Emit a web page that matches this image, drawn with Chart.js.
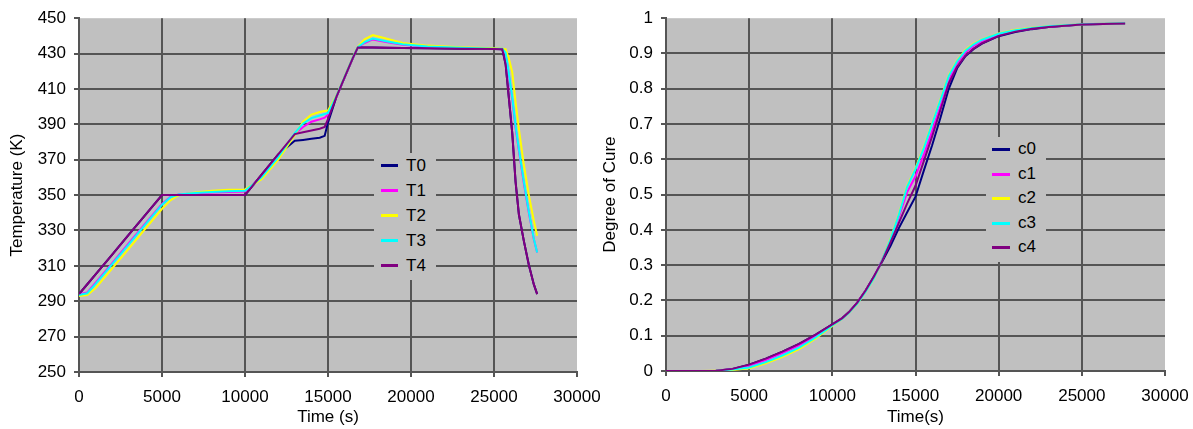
<!DOCTYPE html>
<html>
<head>
<meta charset="utf-8">
<script src="https://cdn.jsdelivr.net/npm/chart.js@4"></script>
<style>
  body { margin: 0; background: #fff; font-family: "Liberation Sans", Arial, sans-serif; }
  #wrap { position: relative; width: 1193px; height: 429px; }
  canvas { position: absolute; top: 0; }
  #tempChart { left: 0; }
  #cureChart { left: 592px; }
  .legend { position: absolute; background: #c0c0c0; font-size: 17px; color: #000; }
  .legend div { position: relative; padding-left: 32px; }
  .legend span { position: absolute; height: 3px; }
  #tempLegend { left: 374px; top: 153px; width: 62px; height: 127px; }
  #tempLegend div { height: 25px; line-height: 25px; }
  #tempLegend span { left: 7px; top: 11px; width: 17px; }
  #cureLegend { left: 986px; top: 137px; width: 60px; height: 125px; }
  #cureLegend div { height: 24.5px; line-height: 24.5px; }
  #cureLegend span { left: 6px; top: 11px; width: 18px; }
</style>
</head>
<body>
<div id="wrap">
  <canvas id="tempChart" width="600" height="429"></canvas>
  <canvas id="cureChart" width="601" height="429"></canvas>
  <div class="legend" id="tempLegend"></div>
  <div class="legend" id="cureLegend"></div>
</div>
<script>
// Temperature profiles (K) at shared time points (s)
const tempTimes = [0, 500, 1000, 2000, 3000, 4000, 5000, 5500, 6000, 7000, 8000, 9000, 10000, 11000, 12000,
  13000, 13500, 14000, 14500, 14800, 15000, 15500, 16000, 16500, 16800, 17200, 17700, 18500, 19500, 21000,
  23000, 25000, 25500, 25700, 25900, 26100, 26300, 26500, 26800, 27100, 27400, 27600];
const T0 = [294, 299.6, 305.2, 316.4, 327.6, 338.8, 350, 350, 350, 350, 350, 350, 350, 361.5, 373,
  380.7, 381.2, 381.8, 382.4, 383.5, 391, 405.4, 416.5, 427.6, 433.5, 433.5, 433.4, 433.3, 433.2, 433,
  432.8, 432.6, 432.5, 424, 404.5, 385, 357.5, 339, 324, 310.5, 299.5, 294];
const T1 = [294, 295, 300.5, 311.5, 322.8, 334, 345, 349, 350.3, 351, 351.5, 351.8, 352, 360.5, 372,
  384.5, 388.5, 391.5, 392.8, 393.8, 395.5, 405.6, 416.6, 427.7, 433.6, 436, 438, 436.5, 435, 433.8,
  433.2, 432.8, 432.6, 430, 417.5, 404, 388, 375, 356.5, 340, 325, 317.5];
const T2 = [293, 293.5, 297.4, 308.6, 319.8, 331, 342.2, 347, 350, 351.5, 352.5, 353, 353.2, 359, 370,
  384, 391.5, 395.5, 397, 397.5, 397.8, 406, 417, 428, 433.8, 438, 440.4, 438.5, 436, 434.5,
  433.6, 433, 432.8, 432.5, 427, 419.5, 402.5, 387.5, 367, 350, 335.5, 327];
const T3 = [293.5, 294.5, 299.8, 311, 322.2, 333.4, 344.6, 348.7, 350.3, 351.2, 351.8, 352.2, 352.5, 360, 371.5,
  385, 390.5, 393.5, 395, 395.8, 396.5, 405.8, 416.8, 427.8, 433.7, 436.5, 438.5, 437, 435.3, 434,
  433.3, 432.8, 432.7, 430.5, 418.5, 405.3, 389.3, 376, 357.5, 340.6, 325.3, 317.5];
const T4 = [294, 299.6, 305.2, 316.4, 327.6, 338.8, 350, 350, 350, 350, 350, 350, 350, 361.5, 373,
  384.5, 385.5, 386.5, 387.5, 388.5, 393, 405.4, 416.5, 427.6, 433.5, 433.5, 433.4, 433.3, 433.2, 433,
  432.8, 432.6, 432.5, 424, 404.5, 385, 357.5, 339, 324, 310.5, 299.5, 294];

// Degree of cure at shared time points (s)
const cureTimes = [0, 2000, 3000, 4000, 5000, 6000, 7000, 8000, 9000, 10000, 10600, 11000, 11500, 12000, 12500,
  13000, 13500, 14000, 14500, 15000, 15500, 16000, 16500, 17000, 17500, 18000, 18500, 19000, 20000, 21000,
  22000, 23000, 25000, 27600];
const c0 = [0, 0, 0.001, 0.006, 0.018, 0.035, 0.055, 0.077, 0.103, 0.132, 0.15, 0.167, 0.194, 0.228, 0.268,
  0.31, 0.355, 0.405, 0.45, 0.494, 0.568, 0.64, 0.718, 0.8, 0.858, 0.892, 0.913, 0.928, 0.949, 0.961,
  0.969, 0.975, 0.982, 0.985];
const c1 = [0, 0, 0.001, 0.005, 0.015, 0.031, 0.051, 0.073, 0.099, 0.13, 0.149, 0.166, 0.193, 0.227, 0.266,
  0.316, 0.37, 0.436, 0.507, 0.552, 0.613, 0.68, 0.752, 0.825, 0.872, 0.903, 0.922, 0.935, 0.953, 0.964,
  0.971, 0.976, 0.983, 0.986];
const c2 = [0, 0, 0.001, 0.003, 0.008, 0.022, 0.04, 0.062, 0.092, 0.128, 0.148, 0.165, 0.19, 0.225, 0.262,
  0.315, 0.375, 0.445, 0.525, 0.575, 0.635, 0.702, 0.77, 0.838, 0.88, 0.91, 0.928, 0.94, 0.957, 0.967,
  0.973, 0.977, 0.983, 0.986];
const c3 = [0, 0, 0.001, 0.004, 0.01, 0.025, 0.044, 0.066, 0.095, 0.129, 0.148, 0.165, 0.191, 0.225, 0.263,
  0.315, 0.373, 0.443, 0.522, 0.572, 0.632, 0.7, 0.768, 0.836, 0.878, 0.908, 0.926, 0.939, 0.956, 0.966,
  0.972, 0.977, 0.983, 0.986];
const c4 = [0, 0, 0.001, 0.006, 0.018, 0.035, 0.055, 0.077, 0.103, 0.132, 0.15, 0.167, 0.194, 0.228, 0.268,
  0.312, 0.365, 0.42, 0.475, 0.525, 0.595, 0.665, 0.74, 0.815, 0.862, 0.894, 0.914, 0.929, 0.95, 0.962,
  0.97, 0.975, 0.982, 0.985];

const tempLabels = ['T0', 'T1', 'T2', 'T3', 'T4'];
const cureLabels = ['c0', 'c1', 'c2', 'c3', 'c4'];
const colors = ['#000080', '#ff00ff', '#ffff00', '#00ffff', '#800080'];
const xTicks = [0, 5000, 10000, 15000, 20000, 25000, 30000];

const GRID = '#555555';
const font = { family: '"Liberation Sans", Arial, sans-serif', size: 17 };

// grey plot area like the original spreadsheet chart
const plotBg = {
  id: 'plotBg',
  beforeDraw(chart) {
    const { ctx, chartArea: a } = chart;
    ctx.save();
    ctx.fillStyle = '#c0c0c0';
    ctx.fillRect(a.left, a.top, a.right - a.left, a.bottom - a.top);
    ctx.restore();
  }
};

function buildDatasets(times, series, labels) {
  return series.map((vals, i) => ({
    label: labels[i],
    data: times.map((t, j) => ({ x: t, y: vals[j] })),
    borderColor: colors[i],
    backgroundColor: colors[i],
    borderWidth: 2,
    pointRadius: 0,
    tension: 0,
    fill: false,
    order: series.length - i
  }));
}

function makeChart(id, datasets, y, titles, box) {
  return new Chart(document.getElementById(id), {
    type: 'line',
    data: { datasets },
    plugins: [plotBg],
    options: {
      responsive: false,
      animation: false,
      layout: { padding: { left: 0, top: box.top, right: box.right, bottom: 0 } },
      plugins: { legend: { display: false }, tooltip: { enabled: false } },
      scales: {
        x: {
          type: 'linear', min: 0, max: 30000,
          afterBuildTicks: s => { s.ticks = xTicks.map(v => ({ value: v })); },
          // keep the plot edges fixed; labels may hang over the padding
          afterFit: s => { s.height = box.xHeight; s.paddingLeft = 0; s.paddingRight = 0; },
          ticks: { callback: v => String(v), padding: 10, color: '#000', font, maxRotation: 0, autoSkip: false },
          grid: { color: c => (c.tick && c.tick.value === 30000 ? 'rgba(0,0,0,0)' : GRID), tickColor: GRID, lineWidth: 2, tickLength: 5 },
          border: { color: GRID, width: 2 },
          title: { display: true, text: titles[0], color: '#000', font, padding: { top: 0, bottom: 1 } }
        },
        y: {
          min: y.min, max: y.max,
          afterBuildTicks: s => { s.ticks = y.ticks.map(v => ({ value: v })); },
          afterFit: s => { s.width = box.yWidth; },
          ticks: { callback: v => String(v), padding: 8, color: '#000', font },
          grid: { color: c => (c.tick && c.tick.value === y.max ? 'rgba(0,0,0,0)' : GRID), tickColor: GRID, lineWidth: 2, tickLength: 5 },
          border: { color: GRID, width: 2 },
          title: { display: true, text: titles[1], color: '#000', font, padding: { top: box.titlePad, bottom: 0 } }
        }
      }
    }
  });
}

const tempTicks = [250, 270, 290, 310, 330, 350, 370, 390, 410, 430, 450];
const cureTicks = [0, 0.1, 0.2, 0.3, 0.4, 0.5, 0.6, 0.7, 0.8, 0.9, 1];

makeChart('tempChart', buildDatasets(tempTimes, [T0, T1, T2, T3, T4], tempLabels),
  { min: 250, max: 450, ticks: tempTicks }, ['Time (s)', 'Temperature (K)'],
  { top: 16, right: 23, xHeight: 57, yWidth: 79, titlePad: 7 });

makeChart('cureChart', buildDatasets(cureTimes, [c0, c1, c2, c3, c4], cureLabels),
  { min: 0, max: 1, ticks: cureTicks }, ['Time(s)', 'Degree of Cure'],
  { top: 17, right: 28, xHeight: 58, yWidth: 74, titlePad: 8 });

function fillLegend(id, labels) {
  const el = document.getElementById(id);
  labels.forEach((name, i) => {
    const row = document.createElement('div');
    const mark = document.createElement('span');
    mark.style.background = colors[i];
    row.appendChild(mark);
    row.appendChild(document.createTextNode(name));
    el.appendChild(row);
  });
}
fillLegend('tempLegend', tempLabels);
fillLegend('cureLegend', cureLabels);
</script>
</body>
</html>
